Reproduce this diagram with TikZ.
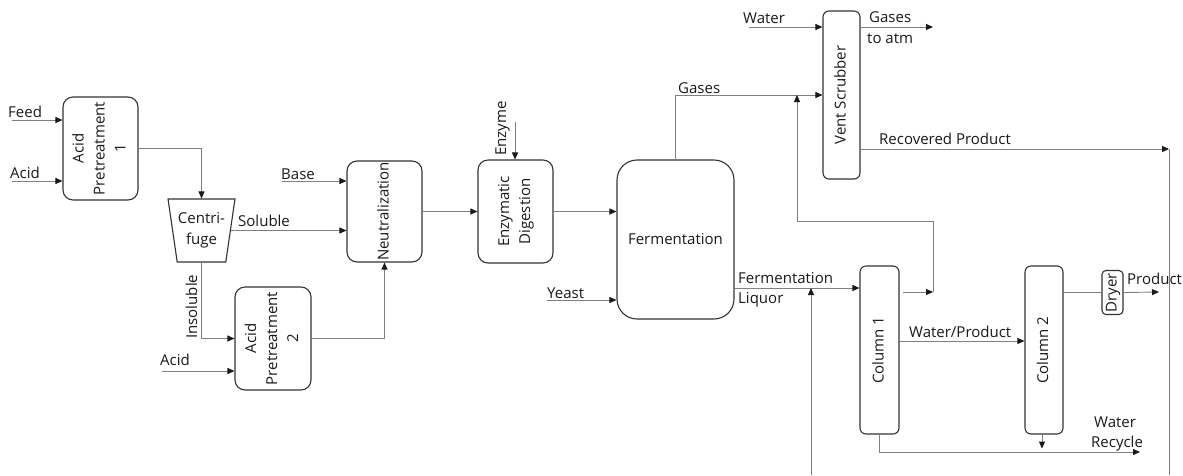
\documentclass[tikz,border=0pt]{standalone}
\usepackage{fontspec}
\usepackage{graphicx}
\setmainfont{Open Sans}
\usetikzlibrary{arrows.meta,shapes.geometric}
% vertical (rotated) multi-line text inside an upright box
\newcommand\vtxt[1]{\rotatebox{90}{\begin{tabular}{@{}c@{}}#1\end{tabular}}}
\begin{document}
\begin{tikzpicture}[x=1pt,y=-1pt,
  font=\fontsize{15}{21}\selectfont,
  unit/.style={draw=black!80, line width=1.1pt, rounded corners=#1, inner sep=0pt,
    align=center, text=black!90},
  unit/.default=10pt,
  flow/.style={draw=black!50, line width=0.9pt,
    -{Triangle[length=7pt,width=6pt,color=black!90]}},
  plain/.style={draw=black!50, line width=0.9pt},
  lbl/.style={inner sep=0pt, text=black!90}]
\useasboundingbox (0,0) rectangle (1183,475);

% process units
\node[unit, minimum width=75pt, minimum height=103pt] (ap1) at (100.5,148.5)
  {\vtxt{Acid\\Pretreatment\\1}};
\node[trapezium, trapezium angle=76, shape border rotate=180, trapezium stretches=true,
  minimum width=67pt, minimum height=63pt, inner sep=0pt, draw=black!80, line width=1.1pt,
  align=center, text=black!90] (cen) at (201.5,230.5) {Centri-\\fuge};
\node[unit, minimum width=75pt, minimum height=101pt] (neu) at (384.5,211.5)
  {\vtxt{Neutralization}};
\node[unit, minimum width=76pt, minimum height=103pt] (ap2) at (273,338.5)
  {\vtxt{Acid\\Pretreatment\\2}};
\node[unit, minimum width=75pt, minimum height=103pt] (ed) at (515.5,211.5)
  {\vtxt{Enzymatic\\Digestion}};
\node[unit=20pt, minimum width=117pt, minimum height=159pt] (fer) at (675.5,239.5)
  {Fermentation};
\node[unit=6pt, minimum width=37pt, minimum height=168pt] (vs) at (841.5,95)
  {\vtxt{Vent Scrubber}};
\node[unit=6pt, minimum width=39pt, minimum height=168pt] (c1) at (879.5,350)
  {\vtxt{Column 1}};
\node[unit=6pt, minimum width=38pt, minimum height=168pt] (c2) at (1044,350)
  {\vtxt{Column 2}};
\node[unit=4pt, minimum width=19pt, minimum height=44pt] (dry) at (1112.5,292.5)
  {\vtxt{Dryer}};

% stream end points and routing levels
\coordinate (feedin) at (12,120);
\coordinate (acid1in) at (12,181);
\coordinate (basein) at (282,181);
\coordinate (acid2in) at (162,371);
\coordinate (enzin) at (515,122);
\coordinate (yeastin) at (547,300);
\coordinate (waterin) at (749,27);
\coordinate (atm) at (933,27);
\coordinate (rp) at (1169,149);
\coordinate (rpend) at (1169,475);
\coordinate (liq) at (734,288);
\coordinate (recin) at (811,475);
\coordinate (ovhend) at (933,292);
\coordinate (ret) at (797,221);
\coordinate (wp) at (899,341);
\coordinate (wr) at (1140,452);
\coordinate (prod) at (1159,292);

% streams
\draw[flow] (feedin) -- (feedin -| ap1.west);
\draw[flow] (acid1in) -- (acid1in -| ap1.west);
\draw[flow] (ap1.east) -| (cen.north);
\draw[flow] (cen.east) -- (cen.east -| neu.west);
\draw[flow] (basein) -- (basein -| neu.west);
\draw[flow] (cen.south) |- (ap2.west);
\draw[flow] (acid2in) -- (acid2in -| ap2.west);
\draw[flow] (ap2.east) -| (neu.south);
\draw[flow] (neu.east) -- (ed.west);
\draw[flow] (enzin) -- (enzin |- ed.north);
\draw[flow] (ed.east) -- (ed.east -| fer.west);
\draw[flow] (yeastin) -- (yeastin -| fer.west);
\draw[flow] (fer.north) |- (vs.west);
\draw[flow] (waterin) -- (waterin -| vs.west);
\draw[flow] (waterin -| vs.east) -- (atm);
\draw[flow] (rp -| vs.east) -- (rp);
\draw[plain] (rp) -- (rpend);
\draw[flow] (fer.east |- liq) -- (c1.west |- liq);
\draw[flow] (recin) -- (recin |- liq);
\draw[flow] ([xshift=3pt]c1.east |- ovhend) -- (ovhend);
\draw[flow] (ovhend) -- (ovhend |- ret) -- (ret) -- (ret |- vs.west);
\draw[flow] (c1.east |- wp) -- (c2.west |- wp);
\draw[flow] ([xshift=-2pt]c2.south) -- ++(0,14);
\draw[flow] (c1.south) |- (wr);
\draw[plain] (c2.east |- dry.west) -- (dry.west);
\draw[flow] (dry.east) -- (prod);

% stream labels
\node[lbl, anchor=base west] (lfeed) at (8,117) {Feed};
\node[lbl, anchor=base west] (lacid1) at (10,178) {Acid};
\node[lbl, anchor=base west] (lbase) at (281,179) {Base};
\node[lbl, anchor=base west] (lsol) at (238,226) {Soluble};
\node[lbl, anchor=base west] (lacid2) at (160,365) {Acid};
\node[lbl, anchor=base west, rotate=90] (linsol) at (197,339) {Insoluble};
\node[lbl, anchor=base west, rotate=90] (lenz) at (506,156) {Enzyme};
\node[lbl, anchor=base west] (lyeast) at (547,298) {Yeast};
\node[lbl, anchor=base west] (lgas) at (678,93) {Gases};
\node[lbl, anchor=base west] (lwater) at (743,23) {Water};
\node[lbl, anchor=base west] (lgasatm) at (869,22) {Gases};
\node[lbl, anchor=base west] (latm) at (867,43) {to atm};
\node[lbl, anchor=base west] (lrp) at (879,144) {Recovered Product};
\node[lbl, anchor=base west] (lferm) at (738,283) {Fermentation};
\node[lbl, anchor=base west] (lliq) at (738,303) {Liquor};
\node[lbl, anchor=base west] (lwp) at (909,337) {Water/Product};
\node[lbl, anchor=base west] (lwr1) at (1094,427) {Water};
\node[lbl, anchor=base west] (lwr2) at (1091,447) {Recycle};
\node[lbl, anchor=base west] (lprod) at (1127,284) {Product};
\end{tikzpicture}
\end{document}
